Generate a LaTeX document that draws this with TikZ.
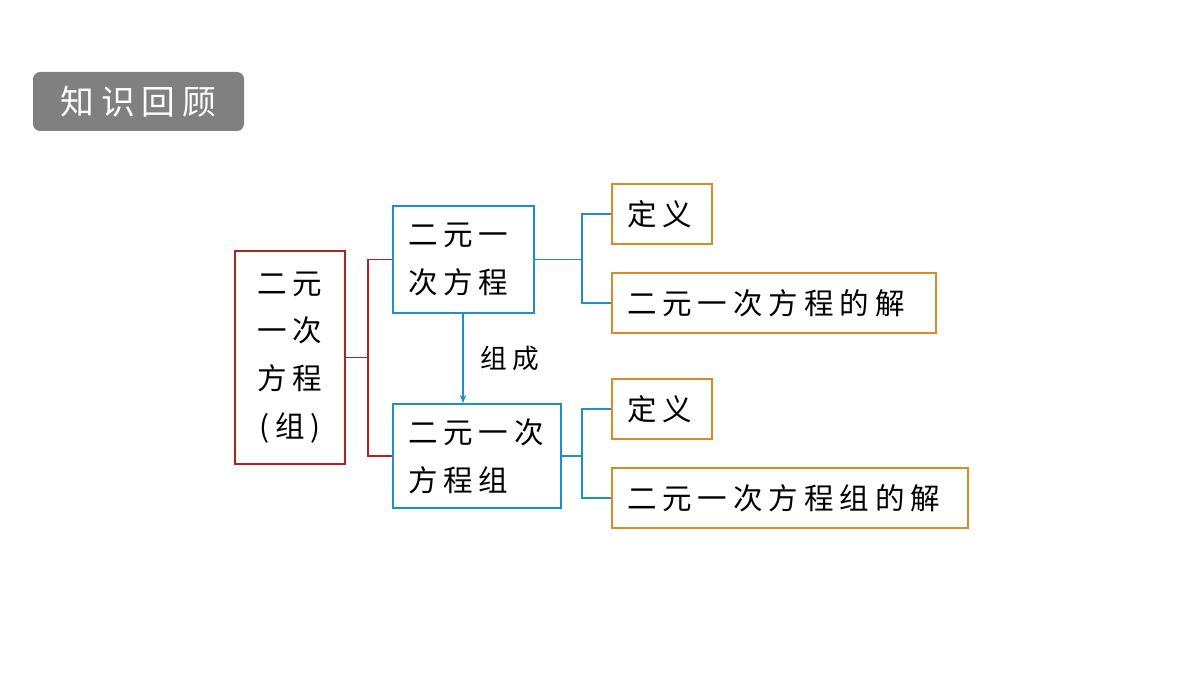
\documentclass[tikz,border=0pt]{standalone}
\usepackage{fontspec}
\setmainfont{Noto Sans CJK SC}[LetterSpace=20]
\usetikzlibrary{arrows.meta}
\begin{document}
\begin{tikzpicture}[x=0.025cm,y=-0.025cm,
  box/.style={draw,line width=1.2pt,inner ysep=0pt,inner xsep=0.375cm,font=\fontsize{21}{34}\selectfont,align=left},
  rb/.style={box,draw={rgb,255:red,178;green,34;blue,34}},
  bb/.style={box,draw={rgb,255:red,30;green,144;blue,200}},
  ob/.style={box,draw={rgb,255:red,217;green,138;blue,43}},
  rl/.style={draw={rgb,255:red,178;green,34;blue,34},line width=1.2pt},
  bl/.style={draw={rgb,255:red,30;green,144;blue,200},line width=1.2pt}]
\useasboundingbox (0,0) rectangle (1200,675);
\node[fill={rgb,255:red,128;green,128;blue,128},rounded corners=5pt,minimum width=211*0.025cm,minimum height=59*0.025cm,text=white,font=\fontsize{24}{30}\selectfont] (t) at (138.5,101.5) {知识回顾};
\node[rb,inner xsep=0pt,minimum width=110*0.025cm,minimum height=213*0.025cm,align=center,font=\fontsize{21}{34}\selectfont] (r) at (290,357.5) {二元\\一次\\方程\\(组)};
\node[bb,text width=111*0.025cm,minimum height=107*0.025cm] (b1) at (463.5,259.5) {二元一\\次方程};
\node[bb,text width=138*0.025cm,minimum height=104*0.025cm] (b2) at (477,456) {二元一次\\方程组};
\node[ob,text width=70*0.025cm,minimum height=60*0.025cm] (o1) at (662,214) {定义};
\node[ob,text width=294*0.025cm,minimum height=60*0.025cm] (o2) at (774,303) {二元一次方程的解};
\node[ob,text width=70*0.025cm,minimum height=60*0.025cm] (o3) at (662,409) {定义};
\node[ob,text width=326*0.025cm,minimum height=60*0.025cm] (o4) at (790,498) {二元一次方程组的解};
\draw[rl] (r.east) -- ++(22,0) coordinate (rj);
\draw[rl] (b1.west) -| (rj) |- (b2.west);
\draw[bl] (b1.east) -- ++(47,0) coordinate (j1);
\draw[bl] (o1.west) -| (j1) |- (o2.west);
\draw[bl] (b2.east) -- ++(20,0) coordinate (j2);
\draw[bl] (o3.west) -| (j2) |- (o4.west);
\coordinate (as) at (463,313);
\draw[bl,-{Stealth[length=6pt]}] (as) -- (as |- b2.north);
\node[font=\fontsize{19}{24}\selectfont] (lab) at (510,358) {组成};
\end{tikzpicture}
\end{document}
